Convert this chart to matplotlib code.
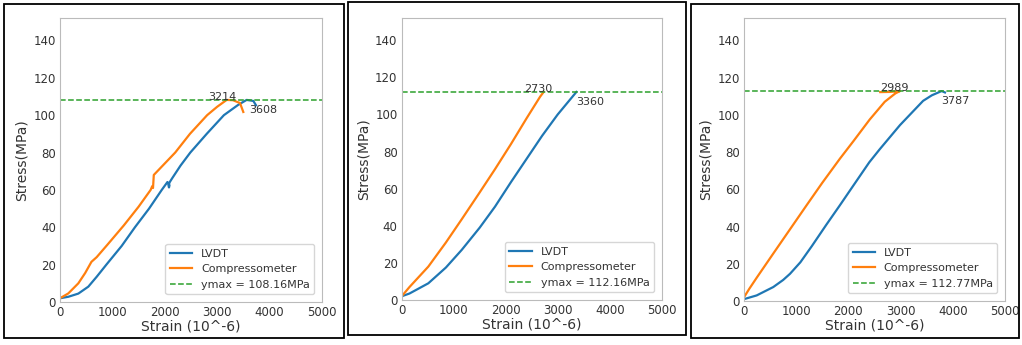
import matplotlib
matplotlib.use('Agg')
import matplotlib.pyplot as plt
from matplotlib.patches import Rectangle

# %% data
# test 1
lvdt1_x = [0, 159, 350, 540, 700, 885, 1177, 1430, 1700, 1942, 2050, 2090, 2080, 2070, 2095, 2140,
           2300, 2487, 2800, 3128, 3400, 3562, 3690, 3740]
lvdt1_y = [2, 2.8, 4.5, 8.2, 13.5, 20, 30, 40, 50, 60, 64.2, 62.5, 61.3, 62.5, 64.2, 66.2,
           73, 80, 90, 100, 105.5, 108.16, 107.6, 105.3]
comp1_x = [0, 159, 350, 480, 520, 560, 600, 640, 700, 900, 1218, 1500, 1730, 1760, 1775, 1790,
           2199, 2480, 2808, 3000, 3181, 3300, 3435, 3498]
comp1_y = [2, 4.6, 10, 15.5, 17.5, 19.5, 21.5, 22.5, 24, 30.5, 41, 51, 60, 62, 61, 68,
           80, 90, 100, 104.5, 108.16, 108, 106.5, 101.7]
ymax1 = 108.16
peak1 = [3214, 3608]

# test 2
lvdt2_x = [0, 150, 512, 850, 1154, 1500, 1794, 2100, 2400, 2700, 3000, 3360]
lvdt2_y = [2, 3.5, 9, 17.5, 27, 39, 50.3, 63.5, 76, 88.5, 100, 112.16]
comp2_x = [0, 150, 512, 850, 1154, 1500, 1794, 2100, 2403, 2660, 2730]
comp2_y = [2, 7, 18, 31, 43.5, 58, 70.5, 84, 98, 109.5, 112.16]
ymax2 = 112.16
peak2 = [2730, 3360]

# test 3
lvdt3_x = [0, 243, 561, 750, 881, 1080, 1300, 1578, 1839, 2058, 2400, 2600, 2989, 3176, 3431, 3600,
           3787, 3850]
lvdt3_y = [1, 3, 7.5, 11.3, 14.6, 20.8, 29.5, 41, 51.5, 60.5, 74.5, 81.5, 94.5, 100, 107.5, 110.5,
           112.77, 112]
comp3_x = [0, 100, 243, 561, 881, 1201, 1500, 1839, 2100, 2409, 2696, 2900, 2989, 2800, 2610]
comp3_y = [2, 6.5, 12.5, 25.5, 38.5, 51.5, 63.5, 76.5, 86, 97.5, 107, 111.5, 112.77, 112.3, 112.2]
ymax3 = 112.77
peak3 = [2989, 3787]

tests = [
    (lvdt1_x, lvdt1_y, comp1_x, comp1_y, ymax1, peak1),
    (lvdt2_x, lvdt2_y, comp2_x, comp2_y, ymax2, peak2),
    (lvdt3_x, lvdt3_y, comp3_x, comp3_y, ymax3, peak3),
]

# %% layout
axes_rects = [
    [60 / 1022, 43 / 345, 262 / 1022, 284 / 345],
    [401.7 / 1022, 45 / 345, 260 / 1022, 282 / 345],
    [744 / 1022, 44 / 345, 261 / 1022, 283 / 345],
]
frames = [(4, 4, 344, 338), (348, 2, 686, 335), (691, 4, 1019, 338)]

fig = plt.figure(figsize=(10.22, 3.45), dpi=100)

for (x0, y0, x1, y1) in frames:
    fig.patches.append(Rectangle((x0 / 1022, 1 - y1 / 345), (x1 - x0) / 1022, (y1 - y0) / 345,
                                 transform=fig.transFigure, fill=False, edgecolor='black',
                                 linewidth=1.3))

for rect, (lx, ly, cx, cy, ymax, peak) in zip(axes_rects, tests):
    ax = fig.add_axes(rect)
    ax.plot(lx, ly, color='#1f77b4', linewidth=1.6, label='LVDT')
    ax.plot(cx, cy, color='#ff7f0e', linewidth=1.6, label='Compressometer')
    ax.axhline(ymax, color='#2ca02c', linestyle='--', linewidth=1.1, label=f'ymax = {ymax}MPa')
    ax.text(peak[0] - 110, ymax - 1.2, str(peak[0]), ha='center', va='bottom', fontsize=8, color='#333333')
    ax.text(peak[1], ymax - 2.5, str(peak[1]), ha='left', va='top', fontsize=8, color='#333333')
    ax.set_xlim(0, 5000)
    ax.set_ylim(0, 152)
    ax.set_xticks([0, 1000, 2000, 3000, 4000, 5000])
    ax.set_yticks([0, 20, 40, 60, 80, 100, 120, 140])
    ax.tick_params(labelsize=8.5, colors='#333333', length=0)
    ax.tick_params(axis='x', pad=3)
    ax.tick_params(axis='y', pad=3)
    for s in ax.spines.values():
        s.set_color('#bbbbbb')
    ax.set_xlabel('Strain (10^-6)', fontsize=10, color='#333333', labelpad=0.5)
    ax.set_ylabel('Stress(MPa)', fontsize=10, color='#333333', labelpad=3.5)
    leg = ax.legend(loc='lower right', fontsize=8, handlelength=2.0, borderaxespad=0.7)
    for t in leg.get_texts():
        t.set_color('#333333')

plt.savefig('out.png', dpi=100)
